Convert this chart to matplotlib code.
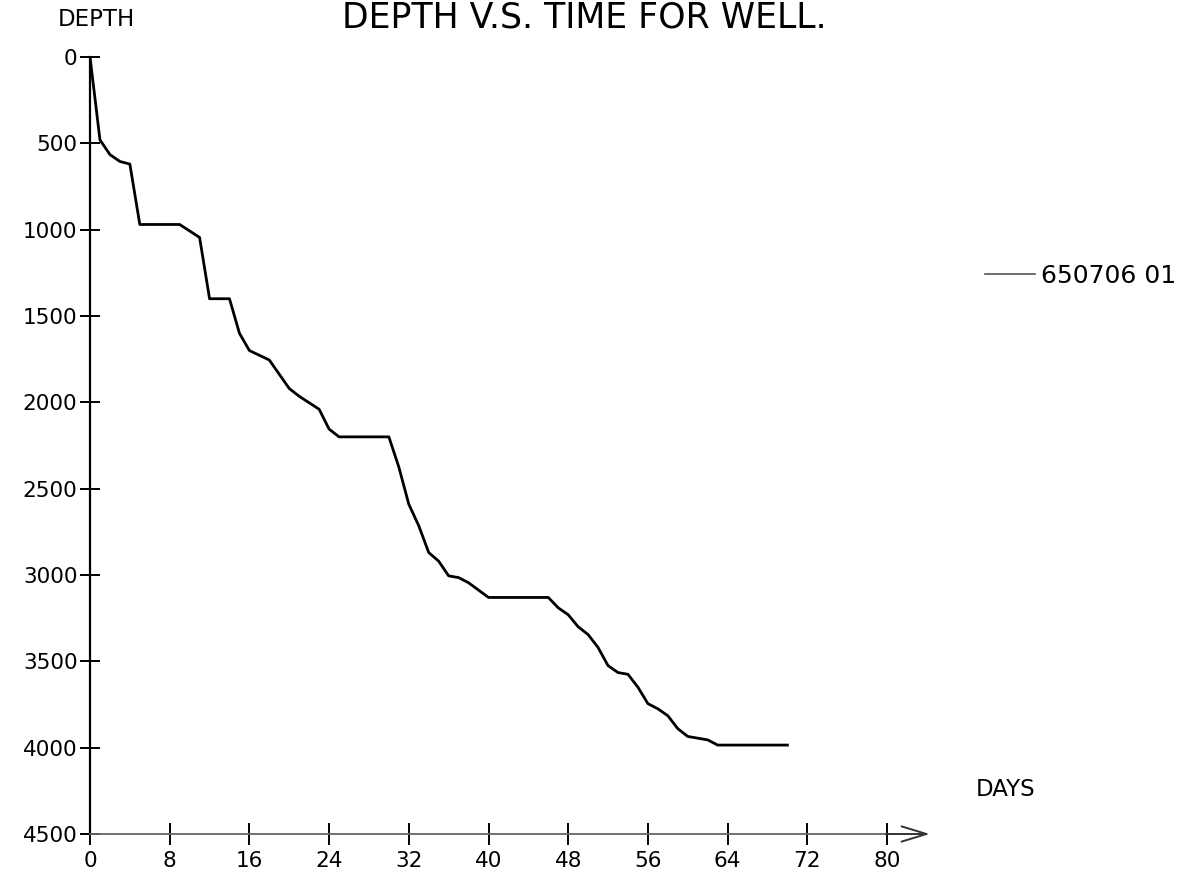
import matplotlib
matplotlib.use("Agg")
import matplotlib.pyplot as plt
from matplotlib.lines import Line2D

plt.rcParams['font.family'] = ['DejaVu Sans']

days = [0, 1, 2, 3, 4, 5, 9, 11, 12, 14, 15, 16, 18, 20, 21, 23, 24, 25, 30, 31, 32, 33,
        34, 35, 36, 37, 38, 40, 46, 47, 48, 49, 50, 51, 52, 53, 54, 55, 56, 57, 58, 59,
        60, 62, 63, 70]
depth = [0, 480, 565, 605, 620, 970, 970, 1045, 1400, 1400, 1600, 1700, 1755, 1920, 1965,
         2040, 2155, 2200, 2200, 2375, 2590, 2715, 2870, 2920, 3005, 3015, 3045, 3130, 3130,
         3190, 3230, 3300, 3345, 3420, 3525, 3565, 3575, 3650, 3745, 3775, 3815, 3890, 3935,
         3955, 3985, 3985]
x_ticks = [0, 8, 16, 24, 32, 40, 48, 56, 64, 72, 80]
y_ticks = [0, 500, 1000, 1500, 2000, 2500, 3000, 3500, 4000, 4500]
series_name = "650706 01"

W, H = 1200, 874
fig = plt.figure(figsize=(W / 100, H / 100), dpi=100)
left_px, right_px, top_px, bot_px = 90, 887, 57, 834
ax = fig.add_axes([left_px / W, 1 - bot_px / H, (right_px - left_px) / W, (bot_px - top_px) / H])

ax.plot(days, depth, color='black', lw=2.0, solid_joinstyle='round')
ax.set_xlim(0, 80)
ax.set_ylim(4500, 0)
ax.set_xticks(x_ticks)
ax.set_yticks(y_ticks)
ax.tick_params(axis='y', direction='inout', length=14, width=1.4, labelsize=15.5, pad=2, color='black')
ax.tick_params(axis='x', direction='inout', length=16, width=1.4, labelsize=15.5, pad=4, color='black')
for s in ['top', 'right']:
    ax.spines[s].set_visible(False)
ax.spines['left'].set_linewidth(1.6)
ax.spines['left'].set_color('black')
ax.spines['bottom'].set_linewidth(1.3)
ax.spines['bottom'].set_color('#666666')

# arrow at end of x-axis
ax.annotate('', xy=(84.3, 4500), xytext=(79.9, 4500),
            arrowprops=dict(arrowstyle='->,head_length=1.8,head_width=0.55',
                            color='#333333', lw=1.4, shrinkA=0, shrinkB=0),
            annotation_clip=False)

fig.text(1006 / W, 1 - 790 / H, 'DAYS', fontsize=16.5, ha='center', va='center')
fig.text(96 / W, 1 - 20 / H, 'DEPTH', fontsize=16.5, ha='center', va='center')
fig.text(584 / W, 1 - 28 / H, 'DEPTH V.S. TIME FOR WELL.', fontsize=25, ha='center',
         va='baseline')

handle = Line2D([], [], color='#555555', lw=1.2)
ax.legend([handle], [series_name], loc='center left', frameon=False,
          bbox_to_anchor=(985 / W, 1 - 276 / H), bbox_transform=fig.transFigure,
          fontsize=18, handlelength=2.0, handletextpad=0.25, borderpad=0, borderaxespad=0)

fig.savefig('out.png', dpi=100, facecolor='white')
